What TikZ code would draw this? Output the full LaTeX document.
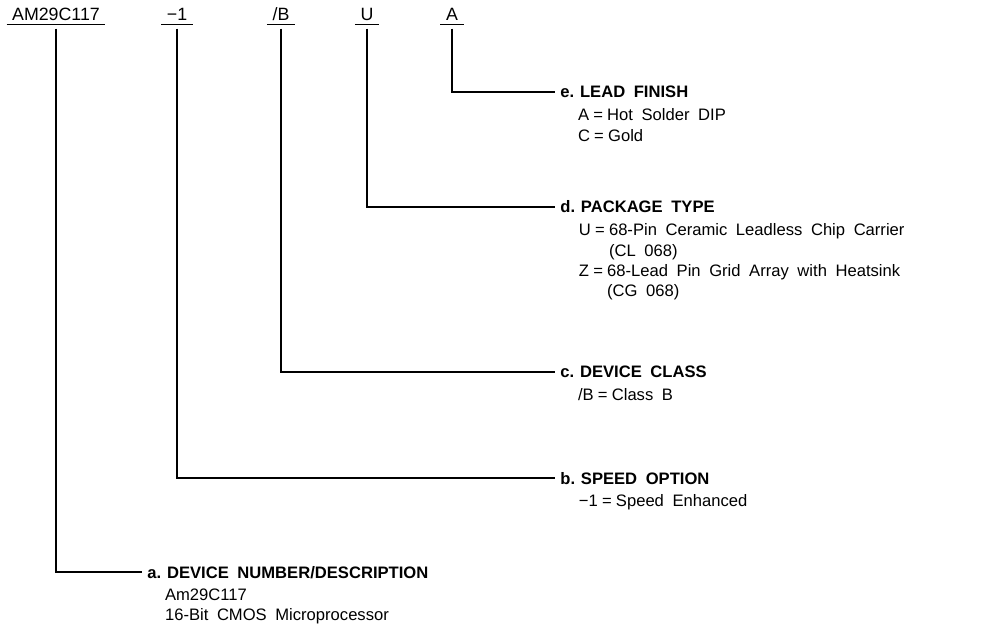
\documentclass[tikz,border=0pt]{standalone}
\usepackage{fontspec}
\setmainfont{Liberation Sans}
\usetikzlibrary{positioning}
\newcommand{\txtfont}{\fontsize{8.3}{10.1}\selectfont\spaceskip 4.3pt\relax}
\newcommand{\eqs}{\hspace{2.1pt}=\hspace{2.1pt}}
\tikzstyle{every node}=[font=\txtfont]
\tikzstyle{code} = [anchor=base, font=\fontsize{8.9}{10}\selectfont, inner xsep=2.6pt, inner ysep=1.6pt, text depth=0pt]
\tikzstyle{ltr} = [anchor=west, font=\txtfont\bfseries, inner xsep=2.5pt, inner ysep=0pt, text height=6pt, text depth=0pt]
\tikzstyle{head} = [font=\txtfont\bfseries, inner xsep=1pt, inner ysep=0pt, text height=6pt, text depth=0pt]
\tikzstyle{desc} = [align=left, inner sep=0pt]
\tikzstyle{line} = [draw, line width=0.7pt]

\begin{document}
\begin{tikzpicture}[x=0.5pt, y=-0.5pt]
    \useasboundingbox (0,0) rectangle (985,630);
    % Place nodes
    \node [code] (device) at (56,21) {AM29C117};
    \node [code] (speed) at (177,21) {−1};
    \node [code] (class) at (281,21) {/B};
    \node [code] (package) at (367,21) {U};
    \node [code] (finish) at (452,21) {A};
    \node [ltr] (ltrE) at (555,92) {e.};
    \node [head, right=-1pt of ltrE] (headE) {LEAD FINISH};
    \node [desc, below right=5pt and 0pt of headE.south west] (descE) {A\eqs Hot Solder DIP\\C\eqs Gold};
    \node [ltr] (ltrD) at (555,207) {d.};
    \node [head, right=-1pt of ltrD] (headD) {PACKAGE TYPE};
    \node [desc, below right=5pt and 0pt of headD.south west] (descD) {U\eqs 68-Pin Ceramic Leadless Chip Carrier\\\phantom{U\eqs}(CL 068)\\Z\eqs 68-Lead Pin Grid Array with Heatsink\\\phantom{Z\eqs}(CG 068)};
    \node [ltr] (ltrC) at (555,372) {c.};
    \node [head, right=-1pt of ltrC] (headC) {DEVICE CLASS};
    \node [desc, below right=5pt and 0pt of headC.south west] (descC) {/B\eqs Class B};
    \node [ltr] (ltrB) at (555,478) {b.};
    \node [head, right=-1pt of ltrB] (headB) {SPEED OPTION};
    \node [desc, below right=5pt and 0pt of headB.south west] (descB) {−1\eqs Speed Enhanced};
    \node [ltr] (ltrA) at (142,572) {a.};
    \node [head, right=-1pt of ltrA] (headA) {DEVICE NUMBER/DESCRIPTION};
    \node [desc, below right=5pt and 0pt of headA.south west] (descA) {Am29C117\\16-Bit CMOS Microprocessor};
    % Draw underlines
    \foreach \n in {device, speed, class, package, finish}
        \draw [line width=0.7pt] (\n.south west) -- (\n.south east);
    % Draw edges
    \path [line] ([yshift=-2pt]finish.south) |- (ltrE.west);
    \path [line] ([yshift=-2pt]package.south) |- (ltrD.west);
    \path [line] ([yshift=-2pt]class.south) |- (ltrC.west);
    \path [line] ([yshift=-2pt]speed.south) |- (ltrB.west);
    \path [line] ([yshift=-2pt]device.south) |- (ltrA.west);
\end{tikzpicture}
\end{document}
